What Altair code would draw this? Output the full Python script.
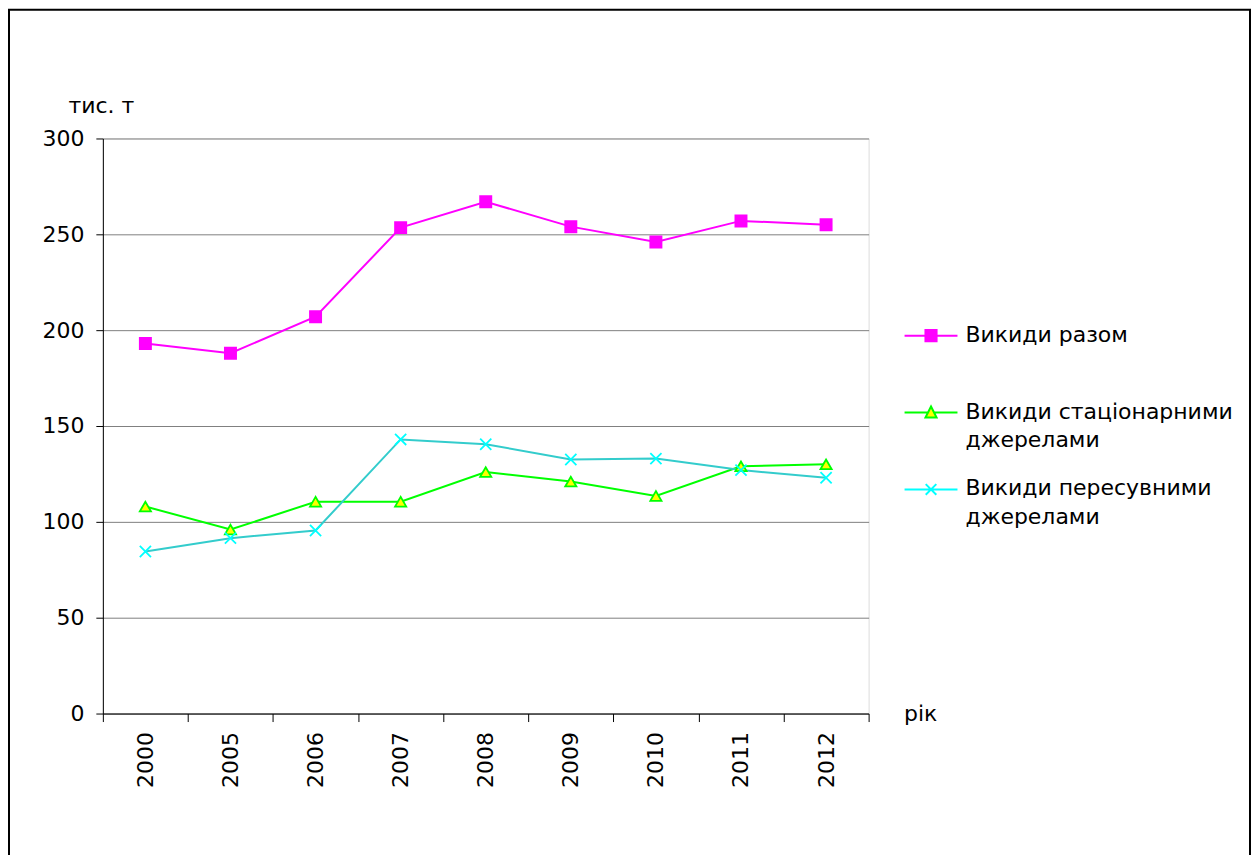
import altair as alt
import pandas as pd

# ---- data ----
years = ["2000", "2005", "2006", "2007", "2008", "2009", "2010", "2011", "2012"]
total = [193, 188, 207, 253.5, 267, 254, 246, 257, 255]
stationary = [108, 96, 110.5, 110.5, 126, 121, 113.5, 129, 130]
mobile = [84.5, 91.5, 95.5, 143, 140.5, 132.5, 133, 127, 123]
series_names = [
    "Викиди разом",
    "Викиди стаціонарними джерелами",
    "Викиди пересувними джерелами",
]
y_ticks = [0, 50, 100, 150, 200, 250, 300]

# ---- styles ----
line_colors = ["#FF00FF", "#00FF00", "#33CCCC"]
marker_fill = ["#FF00FF", "#FFFF00", "transparent"]
marker_stroke = ["#FF00FF", "#00FF00", "#00FFFF"]
marker_shapes = ["square", "triangle-up", "M-1,-1L1,1M-1,1L1,-1"]
SH = 0.415  # vertical shift of legend symbols (in symbol units)
legend_shapes = [
    f"M-1,{SH}H1M-0.21,{SH-0.21}H0.21V{SH+0.21}H-0.21Z",
    f"M-1,{SH}H-0.12M0.12,{SH}H1M0,{SH-0.23}L0.21,{SH+0.19}H-0.21Z",
    f"M-1,{SH}H1M-0.2,{SH-0.2}L0.2,{SH+0.2}M-0.2,{SH+0.2}L0.2,{SH-0.2}",
]
FONT = "DejaVu Sans"
FS = 22

rows = []
for name, vals in zip(series_names, [total, stationary, mobile]):
    for yr, v in zip(years, vals):
        rows.append({"year": yr, "value": v, "series": name})
df = pd.DataFrame(rows)

x_enc = alt.X(
    "year:N",
    sort=years,
    scale=alt.Scale(paddingInner=0, paddingOuter=0),
    axis=alt.Axis(
        title="рік",
        titleAngle=0,
        titleX=802,
        titleY=0,
        titleAlign="left",
        titleBaseline="middle",
        titleFontSize=FS,
        titleFontWeight="normal",
        titleFont=FONT,
        titleColor="#000000",
        labelAngle=270,
        labelFontSize=FS,
        labelFont=FONT,
        labelColor="#000000",
        labelPadding=10,
        tickSize=8,
        tickColor="#000000",
        domainColor="#000000",
        tickBand="extent",
        grid=False,
    ),
)
y_enc = alt.Y(
    "value:Q",
    scale=alt.Scale(domain=[0, 300], nice=False, zero=True),
    axis=alt.Axis(
        values=y_ticks,
        title="тис. т",
        titleAngle=0,
        titleX=-35,
        titleY=-33,
        titleAlign="left",
        titleBaseline="middle",
        titleFontSize=FS,
        titleFontWeight="normal",
        titleFont=FONT,
        titleColor="#000000",
        labelFontSize=FS,
        labelFont=FONT,
        labelColor="#000000",
        labelPadding=12,
        tickSize=7,
        tickColor="#000000",
        domainColor="#000000",
        gridColor="#808080",
        gridWidth=1,
    ),
)

base = alt.Chart(df)

lines = base.mark_line(strokeWidth=2).encode(
    x=x_enc,
    y=y_enc,
    color=alt.Color(
        "series:N",
        scale=alt.Scale(domain=series_names, range=line_colors),
        legend=None,
    ),
)

points = base.mark_point(size=125, strokeWidth=1.8, opacity=1).encode(
    x=x_enc,
    y=y_enc,
    shape=alt.Shape(
        "series:N", scale=alt.Scale(domain=series_names, range=marker_shapes), legend=None
    ),
    fill=alt.Fill(
        "series:N", scale=alt.Scale(domain=series_names, range=marker_fill), legend=None
    ),
    stroke=alt.Stroke(
        "series:N", scale=alt.Scale(domain=series_names, range=marker_stroke), legend=None
    ),
)

legend_kw = dict(
    title=None,
    orient="none",
    legendX=802,
    legendY=159,
    symbolSize=2809,
    symbolStrokeWidth=2,
    labelFontSize=FS,
    labelFont=FONT,
    labelColor="#000000",
    labelBaseline="top",
    labelOffset=7,
    labelLimit=400,
    rowPadding=0,
    labelExpr="split(replace(replace(datum.label, ' джерелами', '|джерелами'), 'разом', 'разом|'), '|')",
)

legend_layer = base.transform_filter("datum.value < 0").mark_point(opacity=1).encode(
    x=alt.X("year:N", sort=years),
    y=alt.Y("value:Q"),
    shape=alt.Shape(
        "series:N",
        scale=alt.Scale(domain=series_names, range=legend_shapes),
        legend=alt.Legend(**legend_kw),
    ),
    fill=alt.Fill(
        "series:N",
        scale=alt.Scale(domain=series_names, range=marker_fill),
        legend=alt.Legend(**legend_kw),
    ),
    stroke=alt.Stroke(
        "series:N",
        scale=alt.Scale(domain=series_names, range=marker_stroke),
        legend=alt.Legend(**legend_kw),
    ),
)

frame = alt.Chart(pd.DataFrame({"k": [0]})).mark_rect(
    fill="transparent", stroke="#000000", strokeWidth=2
).encode(
    x=alt.value(-94),
    x2=alt.value(1149),
    y=alt.value(-129),
    y2=alt.value(740),
)

chart = (
    alt.layer(frame, lines, points, legend_layer)
    .resolve_scale(shape="independent", fill="independent", stroke="independent")
    .properties(
        width=767,
        height=576,
        padding={"left": 95, "top": 130, "right": 384, "bottom": 141},
        autosize=alt.AutoSizeParams(type="none"),
        background="#FFFFFF",
    )
    .configure_view(stroke="#808080", strokeWidth=1)
    .configure(style={"guide-label": {"lineHeight": 28.5}})
)

chart.save("out.html", embed_options={"renderer": "svg", "actions": False})
